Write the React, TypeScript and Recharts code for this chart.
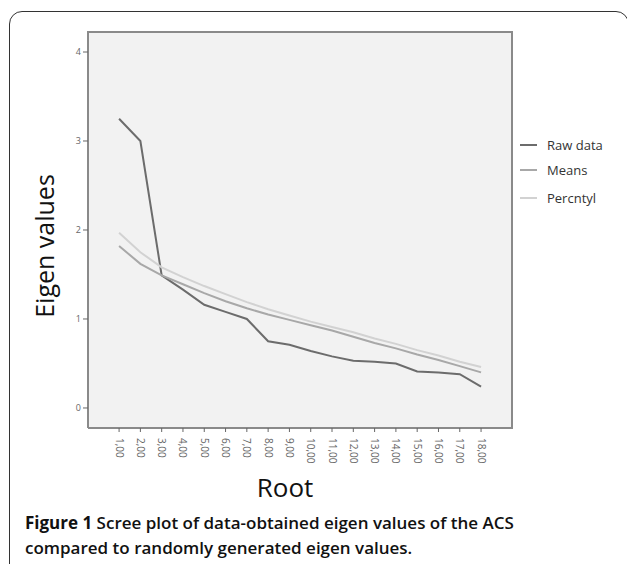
import { CartesianGrid, Line, LineChart, XAxis, YAxis } from 'recharts';

const roots = [1, 2, 3, 4, 5, 6, 7, 8, 9, 10, 11, 12, 13, 14, 15, 16, 17, 18];
const rawData = [3.25, 3.0, 1.49, 1.33, 1.16, 1.08, 1.0, 0.75, 0.71, 0.64, 0.58, 0.53, 0.52, 0.5, 0.41, 0.4, 0.38, 0.24];
const means = [1.82, 1.62, 1.49, 1.39, 1.29, 1.2, 1.12, 1.05, 0.99, 0.93, 0.87, 0.8, 0.73, 0.67, 0.6, 0.54, 0.47, 0.4];
const percntyl = [1.97, 1.75, 1.58, 1.47, 1.37, 1.28, 1.19, 1.11, 1.04, 0.97, 0.91, 0.85, 0.78, 0.72, 0.65, 0.59, 0.52, 0.46];
const yTicks = [0, 1, 2, 3, 4];

const series = [
  { key: 'raw', name: 'Raw data', color: '#6c6c6c' },
  { key: 'means', name: 'Means', color: '#a8a8a8' },
  { key: 'perc', name: 'Percntyl', color: '#d2d2d2' },
];

const points = roots.map((root, i) => ({
  root,
  raw: rawData[i],
  means: means[i],
  perc: percntyl[i],
}));

const font = '"Open Sans", "DejaVu Sans", sans-serif';

function RootTick({ x, y, payload }: any) {
  return (
    <text
      x={x}
      y={y + 4}
      transform={`rotate(90 ${x} ${y + 4})`}
      dy="0.35em"
      textAnchor="start"
      fontSize={10}
      fontFamily={font}
      fill="#666"
    >
      {`${payload.value},00`}
    </text>
  );
}

export default function App() {
  return (
    <div style={{ position: 'absolute', left: 0, top: 0, width: 627, height: 564, overflow: 'hidden', background: '#fff', fontFamily: font }}>
      <div
        style={{
          position: 'absolute',
          left: 9,
          top: 11,
          width: 620,
          height: 620,
          border: '1.5px solid #333',
          borderRadius: 13,
          boxSizing: 'border-box',
        }}
      />
      <div style={{ position: 'absolute', left: 0, top: 0 }}>
        <LineChart width={627} height={470} data={points} margin={{ top: 31, right: 114, left: 58, bottom: 2 }}>
          <CartesianGrid fill="#f2f2f2" horizontal={false} vertical={false} />
          <XAxis
            dataKey="root"
            type="number"
            domain={[-0.46, 19.5]}
            ticks={roots}
            allowDataOverflow
            height={40}
            axisLine={{ stroke: '#8a8a8a', strokeWidth: 2 }}
            tickLine={{ stroke: '#666' }}
            tickSize={4}
            tick={<RootTick />}
            interval={0}
          />
          <YAxis
            type="number"
            domain={[-0.225, 4.236]}
            ticks={yTicks}
            allowDataOverflow
            width={30}
            axisLine={{ stroke: '#8a8a8a', strokeWidth: 2 }}
            tickLine={{ stroke: '#666' }}
            tickSize={5}
            tick={{ fill: '#666', fontSize: 9, fontFamily: font }}
          />
          {series.map((s) => (
            <Line
              key={s.key}
              dataKey={s.key}
              name={s.name}
              stroke={s.color}
              strokeWidth={2}
              dot={false}
              type="linear"
              isAnimationActive={false}
            />
          ))}
        </LineChart>
      </div>
      <div
        style={{
          position: 'absolute',
          left: 88,
          top: 31,
          width: 425,
          height: 397,
          border: '2px solid #8a8a8a',
          borderLeft: 'none',
          borderBottom: 'none',
          boxSizing: 'border-box',
        }}
      />
      {series.map((s, i) => (
        <div key={s.key} style={{ position: 'absolute', left: 520, top: [145, 170, 198][i] - 9, height: 18, display: 'flex', alignItems: 'center' }}>
          <div style={{ width: 17, height: 2, background: s.color }} />
          <span style={{ marginLeft: 10, fontSize: 13, color: '#333' }}>{s.name}</span>
        </div>
      ))}
      <div
        style={{
          position: 'absolute',
          left: 44,
          top: 246,
          transform: 'translate(-50%, -50%) rotate(-90deg)',
          fontSize: 25,
          whiteSpace: 'nowrap',
          color: '#111',
        }}
      >
        Eigen values
      </div>
      <div style={{ position: 'absolute', left: 285, top: 487, transform: 'translate(-50%, -50%)', fontSize: 26, color: '#111' }}>Root</div>
      <div style={{ position: 'absolute', left: 25, top: 510, fontSize: 17, lineHeight: '25px', fontWeight: 600, color: '#111', whiteSpace: 'nowrap' }}>
        <span style={{ fontWeight: 700 }}>Figure 1</span> Scree plot of data-obtained eigen values of the ACS
        <br />
        compared to randomly generated eigen values.
      </div>
    </div>
  );
}
